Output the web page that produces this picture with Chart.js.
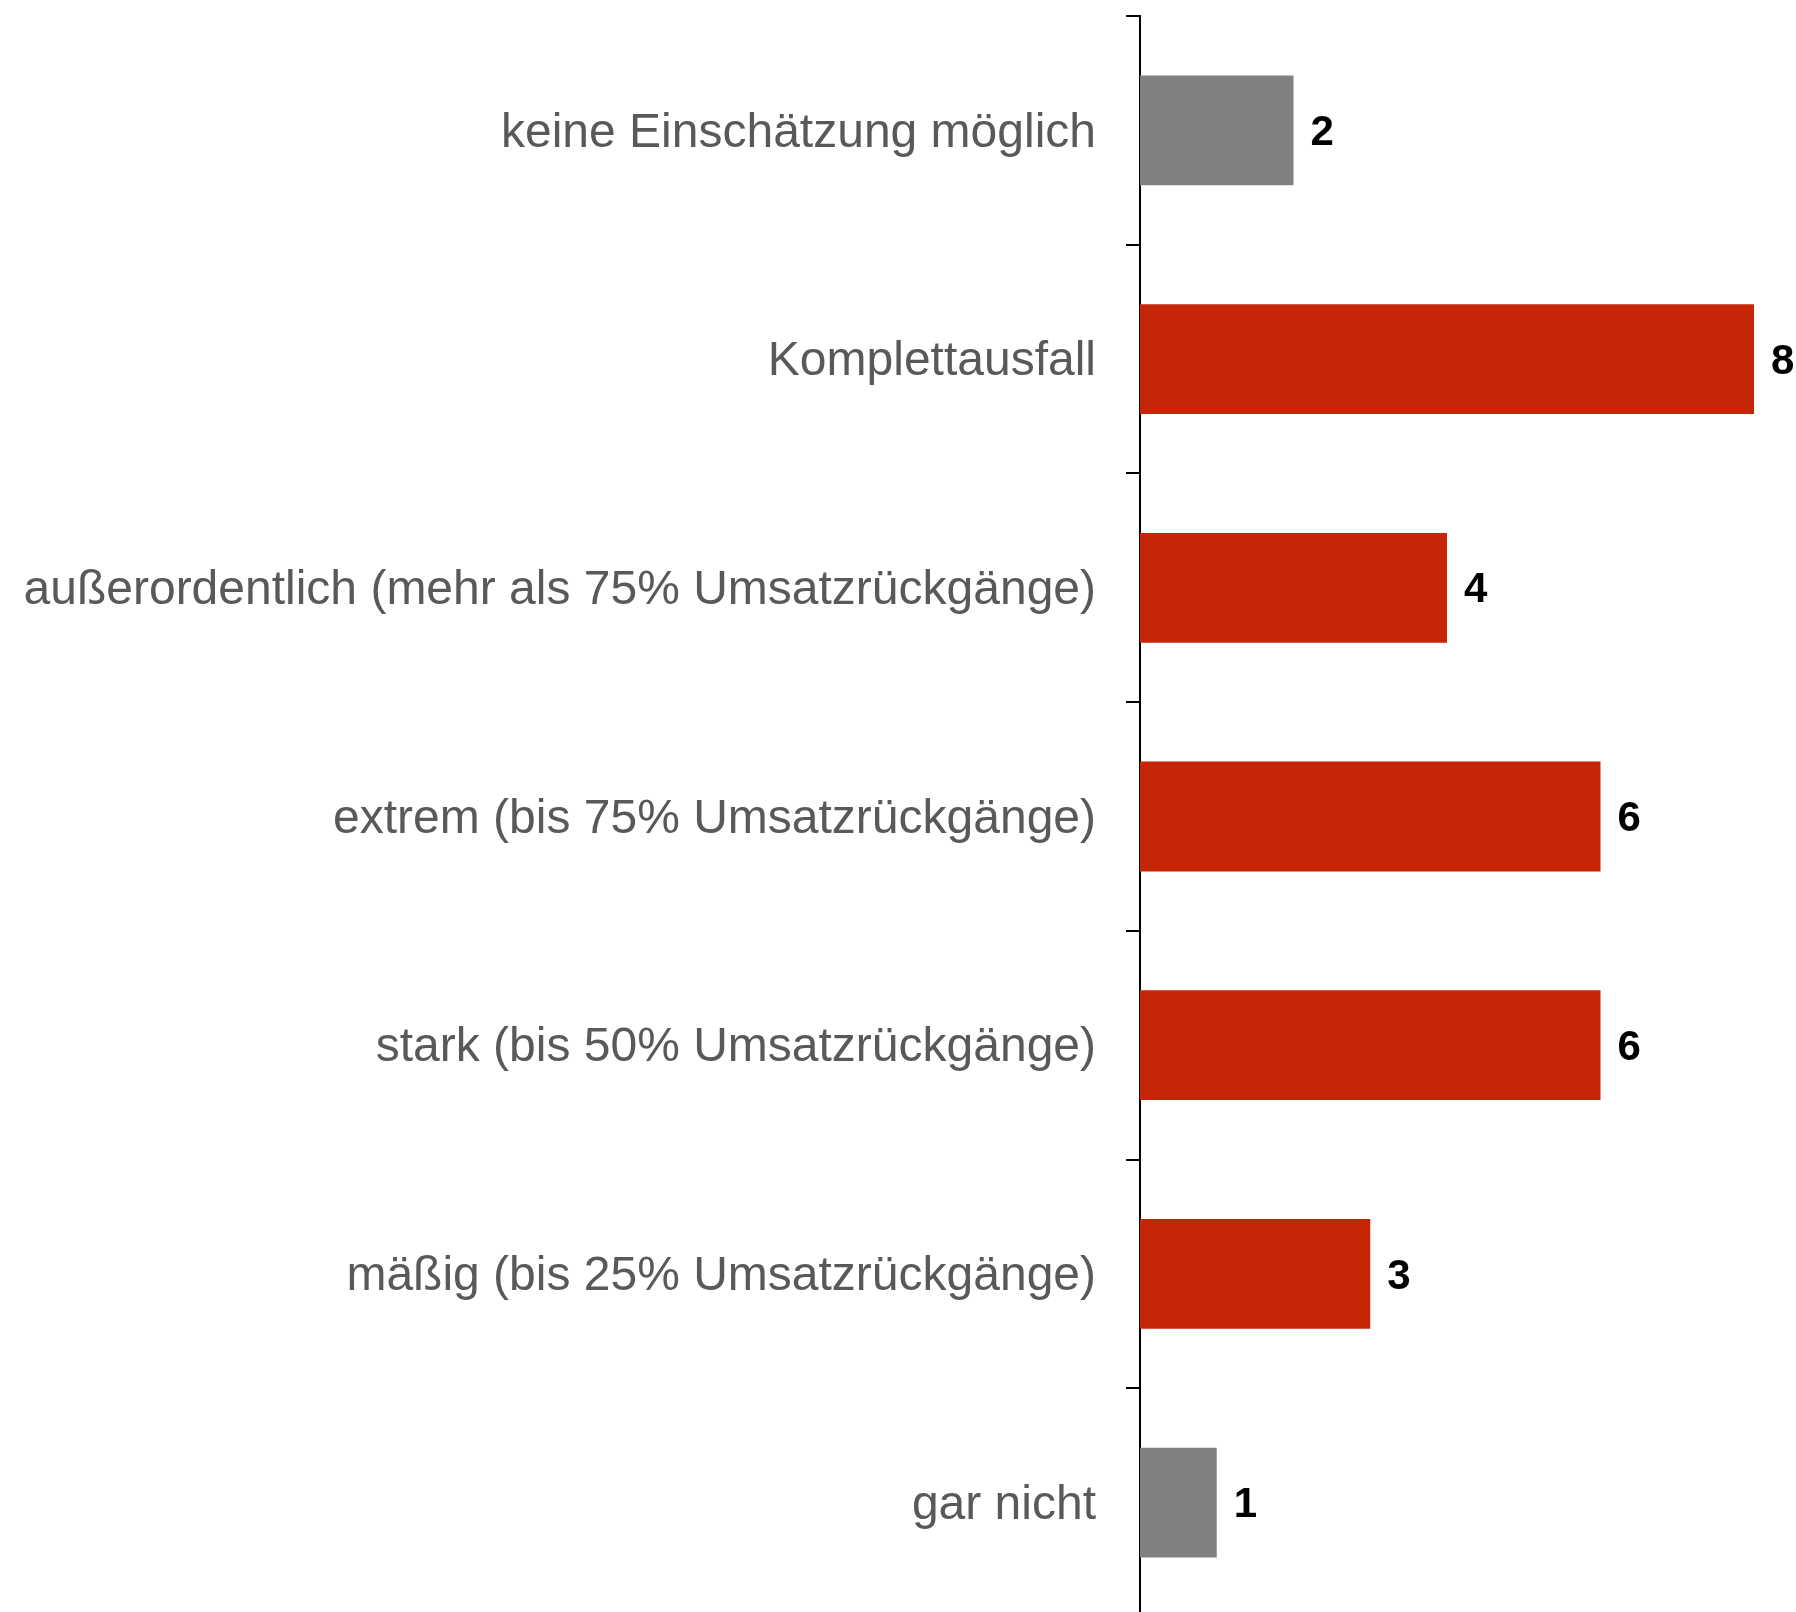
<!DOCTYPE html>
<html>
<head>
<meta charset="utf-8">
<script src="https://cdn.jsdelivr.net/npm/chart.js@4"></script>
<style>
  html, body { margin: 0; padding: 0; background: #fff; overflow: hidden; }
  #wrap { width: 1796px; height: 1640px; }
</style>
</head>
<body>
<div id="wrap"><canvas id="chart" width="1796" height="1640"></canvas></div>
<script>
// Categories, top to bottom
const categories = [
    'keine Einschätzung möglich',
    'Komplettausfall',
    'außerordentlich (mehr als 75% Umsatzrückgänge)',
    'extrem (bis 75% Umsatzrückgänge)',
    'stark (bis 50% Umsatzrückgänge)',
    'mäßig (bis 25% Umsatzrückgänge)',
    'gar nicht'
];
// Values
const values = [2, 8, 4, 6, 6, 3, 1];
const barColors = ['#808080', '#C72508', '#C72508', '#C72508', '#C72508', '#C72508', '#808080'];

// Draw the value next to each bar
const valueLabels = {
    id: 'valueLabels',
    afterDatasetsDraw(chart) {
        const ctx = chart.ctx;
        ctx.save();
        ctx.font = 'bold 42px "Liberation Sans", Arial, sans-serif';
        ctx.fillStyle = '#000';
        ctx.textAlign = 'left';
        ctx.textBaseline = 'middle';
        chart.getDatasetMeta(0).data.forEach((bar, i) => {
            ctx.fillText(String(values[i]), bar.x + 17, bar.y + 3);
        });
        ctx.restore();
    }
};

const chart = new Chart(document.getElementById('chart').getContext('2d'), {
    type: 'bar',
    data: {
        labels: categories,
        datasets: [{
            data: values,
            backgroundColor: barColors,
            borderWidth: 0,
            categoryPercentage: 0.96,
            barPercentage: 0.5
        }]
    },
    options: {
        indexAxis: 'y',
        responsive: false,
        animation: false,
        layout: { padding: { top: 16, right: 42, bottom: 23, left: 0 } },
        plugins: {
            legend: { display: false },
            tooltip: { enabled: false }
        },
        scales: {
            x: {
                display: false,
                min: 0,
                max: 8
            },
            y: {
                z: 1, // axis line on top of the bars
                afterFit(scale) {
                    scale.width = 1140;
                    scale.paddingTop = 0;
                    scale.paddingBottom = 0;
                },
                grid: {
                    drawOnChartArea: false,
                    offset: true,
                    tickLength: 14,
                    color: '#000',
                    lineWidth: 2
                },
                border: { color: '#000', width: 2 },
                ticks: {
                    padding: 30,
                    labelOffset: 3,
                    color: '#595959',
                    font: { family: '"Liberation Sans", Arial, sans-serif', size: 48 }
                }
            }
        }
    },
    plugins: [valueLabels]
});
</script>
</body>
</html>
